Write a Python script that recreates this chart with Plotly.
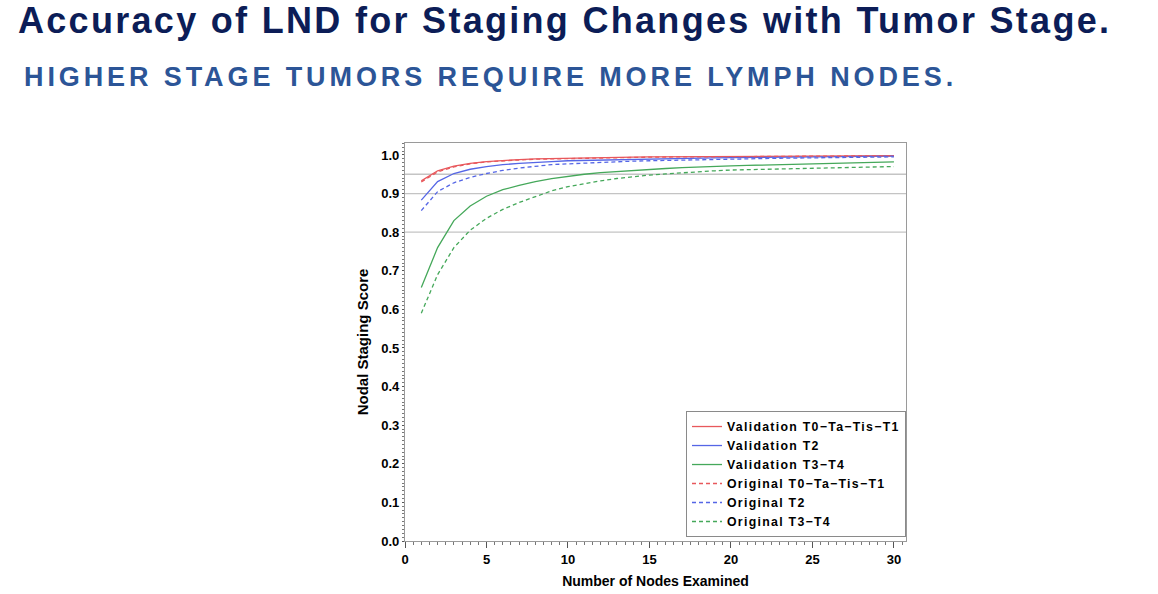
import plotly.graph_objects as go

nodes = list(range(1, 31))

val_t01 = [0.933, 0.959, 0.971, 0.978, 0.983, 0.986, 0.988, 0.990, 0.991, 0.992,
           0.993, 0.9935, 0.994, 0.9945, 0.995, 0.9953, 0.9956, 0.9959, 0.9962, 0.9964,
           0.9966, 0.9968, 0.997, 0.9972, 0.9974, 0.9975, 0.9976, 0.9977, 0.9978, 0.998]
val_t2 = [0.883, 0.931, 0.952, 0.963, 0.970, 0.975, 0.978, 0.981, 0.983, 0.985,
          0.986, 0.987, 0.988, 0.989, 0.990, 0.991, 0.9915, 0.992, 0.9925, 0.993,
          0.9935, 0.994, 0.9944, 0.9948, 0.9952, 0.9956, 0.996, 0.9964, 0.9967, 0.997]
val_t34 = [0.657, 0.760, 0.830, 0.868, 0.893, 0.910, 0.921, 0.931, 0.939, 0.945,
           0.950, 0.954, 0.957, 0.960, 0.963, 0.965, 0.967, 0.969, 0.970, 0.972,
           0.973, 0.974, 0.975, 0.976, 0.977, 0.978, 0.979, 0.980, 0.981, 0.982]
orig_t01 = [0.930, 0.956, 0.969, 0.977, 0.982, 0.985, 0.987, 0.989, 0.990, 0.991,
            0.992, 0.9926, 0.9932, 0.9938, 0.9943, 0.9947, 0.9951, 0.9955, 0.9958, 0.9961,
            0.9963, 0.9965, 0.9967, 0.9969, 0.9971, 0.9973, 0.9974, 0.9975, 0.9976, 0.9977]
orig_t2 = [0.856, 0.905, 0.928, 0.942, 0.952, 0.960, 0.966, 0.971, 0.975, 0.977,
           0.979, 0.981, 0.983, 0.984, 0.985, 0.986, 0.987, 0.988, 0.989, 0.990,
           0.9905, 0.991, 0.9915, 0.992, 0.9925, 0.993, 0.9935, 0.994, 0.9945, 0.995]
orig_t34 = [0.590, 0.690, 0.760, 0.805, 0.836, 0.859, 0.877, 0.893, 0.907, 0.918,
            0.926, 0.933, 0.939, 0.944, 0.948, 0.951, 0.954, 0.957, 0.959, 0.961,
            0.962, 0.963, 0.964, 0.965, 0.966, 0.967, 0.968, 0.969, 0.9695, 0.970]

series_names = ["Validation T0\u2212Ta\u2212Tis\u2212T1", "Validation T2", "Validation T3\u2212T4",
                "Original T0\u2212Ta\u2212Tis\u2212T1", "Original T2", "Original T3\u2212T4"]
series_values = [val_t01, val_t2, val_t34, orig_t01, orig_t2, orig_t34]
series_colors = ["#e8585c", "#5566e6", "#45a85a", "#e8585c", "#5566e6", "#45a85a"]
series_dash = ["solid", "solid", "solid", "4px,3px", "4px,3px", "4px,3px"]

ref_lines = [0.8, 0.9, 0.95]
y_ticks = [0.0, 0.1, 0.2, 0.3, 0.4, 0.5, 0.6, 0.7, 0.8, 0.9, 1.0]
x_ticks = [0, 5, 10, 15, 20, 25, 30]

title_text = "Accuracy of LND for Staging Changes with Tumor Stage."
subtitle_text = "HIGHER STAGE TUMORS REQUIRE MORE LYMPH NODES."

FONT = "Liberation Sans, Arial, sans-serif"

W, H = 1158, 594
ML, MR, MT, MB = 405, 252, 143, 53
PW, PH = W - ML - MR, H - MT - MB

fig = go.Figure()
for name, vals, col, dash in zip(series_names, series_values, series_colors, series_dash):
    fig.add_trace(go.Scatter(x=nodes, y=vals, mode="lines",
                             name=f'<span style="letter-spacing:1.3px">{name}</span>',
                             line=dict(color=col, width=1.3, dash=dash)))

for v in ref_lines:
    fig.add_shape(type="line", xref="paper", x0=0, x1=1, yref="y", y0=v, y1=v,
                  line=dict(color="#c4c4c4", width=1.3), layer="below")

axis_common = dict(showgrid=False, zeroline=False, showline=True, mirror=True,
                   linecolor="#9a9a9a", linewidth=1.2, tickcolor="#555", tickwidth=1,
                   ticks="outside", automargin=False,
                   tickfont=dict(family=FONT, size=13, color="black", weight="bold"))

fig.update_xaxes(range=[0, 30.74], tickvals=x_ticks, ticktext=[str(t) for t in x_ticks],
                 ticklen=6,
                 minor=dict(dtick=0.5, ticks="outside", ticklen=3, tickcolor="#777"),
                 title=dict(text="Number of Nodes Examined",
                            font=dict(family=FONT, size=14, color="black", weight="bold"),
                            standoff=10),
                 **axis_common)
fig.update_yaxes(range=[0, 1.031], tickvals=y_ticks, ticktext=[f"{t:.1f}" for t in y_ticks],
                 ticklen=2,
                 minor=dict(dtick=0.01, ticks="outside", ticklen=2, tickcolor="#777"),
                 title=dict(text="Nodal Staging Score",
                            font=dict(family=FONT, size=15, color="black", weight="bold"),
                            standoff=8),
                 **axis_common)

fig.update_layout(
    width=W, height=H,
    margin=dict(l=ML, r=MR, t=MT, b=MB, autoexpand=False),
    paper_bgcolor="white", plot_bgcolor="white",
    showlegend=True,
    legend=dict(x=1, xanchor="right", y=0.01, yanchor="bottom",
                bgcolor="white", bordercolor="#8a8a8a", borderwidth=1,
                font=dict(family=FONT, size=12.3, color="black", weight="bold"),
                itemwidth=30, tracegroupgap=0),
    title=dict(text=f'<span style="letter-spacing:2.3px">{title_text}</span>',
               x=18 / W, xanchor="left", xref="container",
               y=1 - 20.5 / H, yanchor="middle", yref="container",
               font=dict(family=FONT, size=36, color="#0c1d57", weight="bold")),
    annotations=[dict(text=f'<span style="letter-spacing:3.9px">{subtitle_text}</span>',
                      xref="paper", yref="paper", x=(22 - ML) / PW, y=(H - MB - 77) / PH,
                      xanchor="left", yanchor="middle", showarrow=False,
                      font=dict(family=FONT, size=27, color="#2c5597", weight="bold"))],
)

fig.write_html("out.html", config={"displayModeBar": False},
               post_script="document.body.style.margin='0';document.body.style.overflow='hidden';")
